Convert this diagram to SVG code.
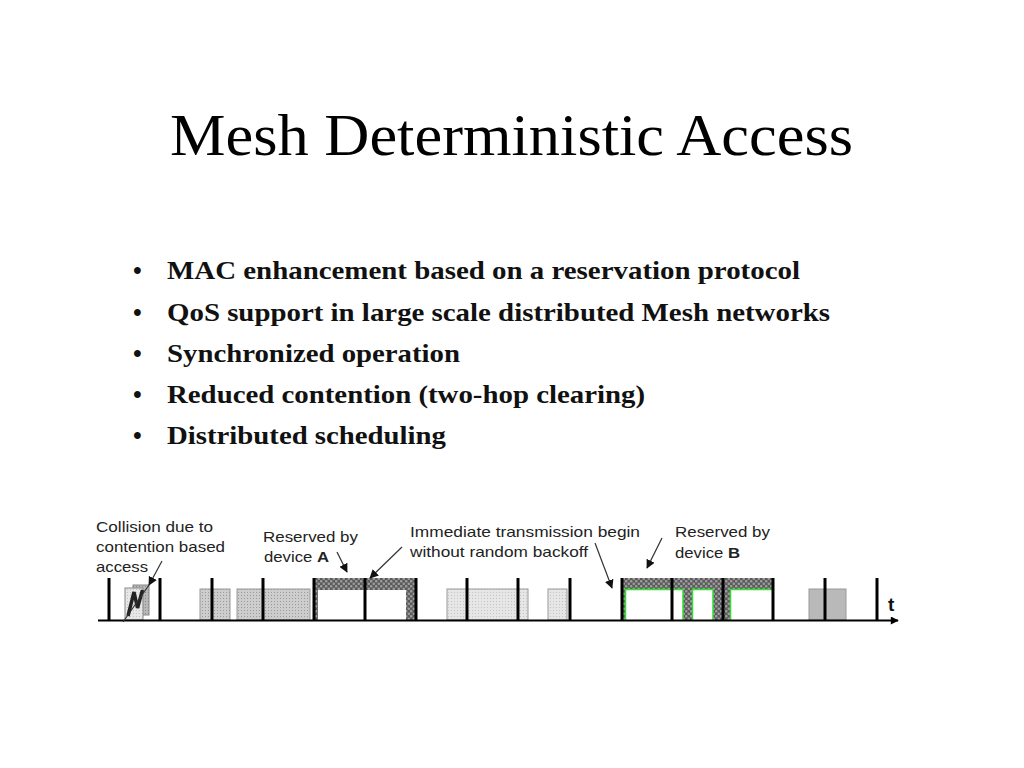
<svg xmlns="http://www.w3.org/2000/svg" width="1024" height="768" viewBox="0 0 1024 768">
<style>
.title{font-family:"Liberation Serif","Times New Roman",serif;font-size:60px;fill:#000}
.bul{font-family:"Liberation Serif","Times New Roman",serif;font-size:25px;font-weight:bold;fill:#111}
.lbl{font-family:"Liberation Sans",Arial,sans-serif;font-size:15px;fill:#222}
.tick{stroke:#000;stroke-width:3}
.arr{stroke:#333;stroke-width:1.2;fill:none}
.grn{stroke:#33dd33;stroke-width:1.5;fill:none}
</style>
<defs>
<pattern id="dotMid" width="3" height="3" patternUnits="userSpaceOnUse">
<rect width="3" height="3" fill="#cdcdcd"/><rect x="1" y="1" width="1" height="1" fill="#9a9a9a"/>
</pattern>
<pattern id="dotLight" width="3" height="3" patternUnits="userSpaceOnUse">
<rect width="3" height="3" fill="#e6e6e6"/><rect x="1" y="1" width="1" height="1" fill="#c4c4c4"/>
</pattern>
<pattern id="dotDark" width="3" height="3" patternUnits="userSpaceOnUse">
<rect width="3" height="3" fill="#b8b8b8"/><rect x="1" y="1" width="1" height="1" fill="#8a8a8a"/>
</pattern>
<pattern id="hatch" width="5" height="5" patternUnits="userSpaceOnUse">
<rect width="5" height="5" fill="#5a5a5a"/><circle cx="1.25" cy="1.25" r="1.3" fill="#9c9c9c"/><circle cx="3.75" cy="3.75" r="1.3" fill="#9c9c9c"/>
</pattern>
<marker id="ah" viewBox="0 0 10 10" refX="9" refY="5" markerWidth="9" markerHeight="9" markerUnits="userSpaceOnUse" orient="auto">
<path d="M0,0 L10,5 L0,10 z" fill="#111"/>
</marker>
<marker id="axh" viewBox="0 0 10 10" refX="9" refY="5" markerWidth="9" markerHeight="8" markerUnits="userSpaceOnUse" orient="auto">
<path d="M0,0 L10,5 L0,10 z" fill="#000"/>
</marker>
</defs>
<rect width="1024" height="768" fill="#fff"/>

<g id="title">
<text class="title" x="170" y="155" textLength="683" lengthAdjust="spacingAndGlyphs">Mesh Deterministic Access</text>
</g>

<g id="bullets">
<text class="bul" x="133" y="279">•</text>
<text class="bul" x="167" y="279" textLength="633" lengthAdjust="spacingAndGlyphs">MAC enhancement based on a reservation protocol</text>
<text class="bul" x="133" y="321">•</text>
<text class="bul" x="167" y="321" textLength="663" lengthAdjust="spacingAndGlyphs">QoS support in large scale distributed Mesh networks</text>
<text class="bul" x="133" y="362">•</text>
<text class="bul" x="167" y="362" textLength="293" lengthAdjust="spacingAndGlyphs">Synchronized operation</text>
<text class="bul" x="133" y="403">•</text>
<text class="bul" x="167" y="403" textLength="478" lengthAdjust="spacingAndGlyphs">Reduced contention (two-hop clearing)</text>
<text class="bul" x="133" y="444">•</text>
<text class="bul" x="167" y="444" textLength="279" lengthAdjust="spacingAndGlyphs">Distributed scheduling</text>
</g>

<g id="slots">
<!-- collision -->
<rect x="133" y="585" width="16" height="30" fill="url(#dotDark)" stroke="#888" stroke-width="1"/>
<rect x="125" y="588" width="18" height="32" fill="url(#dotLight)" stroke="#888" stroke-width="1"/>
<polyline points="128,616 134,592 137.5,608 142.5,590" fill="none" stroke="#222" stroke-width="3.5" stroke-linejoin="miter"/>
<!-- grey transmissions -->
<rect x="200" y="589" width="30" height="31" fill="url(#dotMid)" stroke="#999" stroke-width="1"/>
<rect x="237" y="589" width="73" height="31" fill="url(#dotMid)" stroke="#999" stroke-width="1"/>
<rect x="447" y="589" width="81" height="31" fill="url(#dotLight)" stroke="#999" stroke-width="1"/>
<rect x="548" y="589" width="19" height="31" fill="url(#dotLight)" stroke="#999" stroke-width="1"/>
<rect x="809" y="589" width="37" height="31" fill="#b9b9b9" stroke="#999" stroke-width="1"/>
</g>

<g id="reservedA">
<rect x="314" y="578" width="102" height="42" fill="url(#hatch)"/>
<rect x="318" y="590" width="47" height="30" fill="#fff"/>
<rect x="365" y="590" width="41" height="30" fill="#fff"/>
</g>

<g id="reservedB">
<rect x="622" y="578" width="151" height="42" fill="url(#hatch)"/>
<rect x="625" y="589" width="47" height="31" fill="#fff"/>
<rect x="672" y="589" width="11" height="31" fill="#fff"/>
<rect x="692" y="589" width="21" height="31" fill="#fff"/>
<rect x="730" y="589" width="43" height="31" fill="#fff"/>
<path class="grn" d="M625.5,620 V589.5 H672 M672,589.5 H683 V620 M692.5,620 V589.5 H713 V620 M730.5,620 V589.5 H773"/>
</g>

<g id="ticks">
<line class="tick" x1="109" y1="578" x2="109" y2="620"/>
<line class="tick" x1="160" y1="578" x2="160" y2="620"/>
<line class="tick" x1="212" y1="578" x2="212" y2="620"/>
<line class="tick" x1="263" y1="578" x2="263" y2="620"/>
<line class="tick" x1="314" y1="578" x2="314" y2="620"/>
<line class="tick" x1="365" y1="578" x2="365" y2="620"/>
<line class="tick" x1="416" y1="578" x2="416" y2="620"/>
<line class="tick" x1="467" y1="578" x2="467" y2="620"/>
<line class="tick" x1="518" y1="578" x2="518" y2="620"/>
<line class="tick" x1="570" y1="578" x2="570" y2="620"/>
<line class="tick" x1="622" y1="578" x2="622" y2="620"/>
<line class="tick" x1="672" y1="578" x2="672" y2="620"/>
<line class="tick" x1="723" y1="578" x2="723" y2="620"/>
<line class="tick" x1="773" y1="578" x2="773" y2="620"/>
<line class="tick" x1="825" y1="578" x2="825" y2="620"/>
<line class="tick" x1="877" y1="578" x2="877" y2="620"/>
</g>

<g id="axis">
<line x1="98" y1="620.5" x2="898" y2="620.5" stroke="#000" stroke-width="2.2" marker-end="url(#axh)"/>
<text x="888" y="611" font-family="Liberation Sans,Arial,sans-serif" font-size="19" font-weight="bold" fill="#111">t</text>
</g>

<g id="labels">
<text class="lbl" x="96" y="532" textLength="117" lengthAdjust="spacingAndGlyphs">Collision due to</text>
<text class="lbl" x="96" y="552" textLength="129" lengthAdjust="spacingAndGlyphs">contention based</text>
<text class="lbl" x="96" y="572" textLength="52" lengthAdjust="spacingAndGlyphs">access</text>
<text class="lbl" x="263" y="542" textLength="95" lengthAdjust="spacingAndGlyphs">Reserved by</text>
<text class="lbl" x="264" y="562" textLength="65" lengthAdjust="spacingAndGlyphs">device <tspan font-weight="bold">A</tspan></text>
<text class="lbl" x="410" y="537" textLength="230" lengthAdjust="spacingAndGlyphs">Immediate transmission begin</text>
<text class="lbl" x="410" y="557" textLength="178" lengthAdjust="spacingAndGlyphs">without random backoff</text>
<text class="lbl" x="675" y="537" textLength="95" lengthAdjust="spacingAndGlyphs">Reserved by</text>
<text class="lbl" x="675" y="558" textLength="65" lengthAdjust="spacingAndGlyphs">device <tspan font-weight="bold">B</tspan></text>
</g>

<g id="connectors">
<line class="arr" x1="162" y1="561" x2="149" y2="585" marker-end="url(#ah)"/>
<line class="arr" x1="149" y1="585" x2="123" y2="622"/>
<line class="arr" x1="337" y1="552" x2="347" y2="572" marker-end="url(#ah)"/>
<line class="arr" x1="402" y1="547" x2="370" y2="578" marker-end="url(#ah)"/>
<line class="arr" x1="595" y1="543" x2="612" y2="588" marker-end="url(#ah)"/>
<line class="arr" x1="662" y1="538" x2="647" y2="568" marker-end="url(#ah)"/>
</g>
</svg>
